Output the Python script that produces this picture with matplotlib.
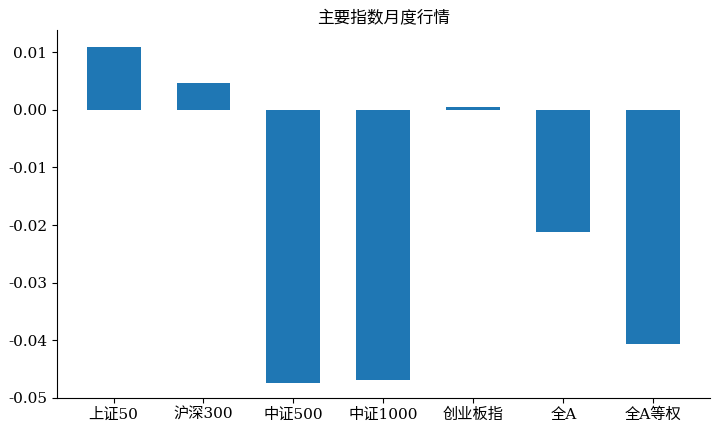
import matplotlib
matplotlib.use('Agg')
import matplotlib.pyplot as plt

plt.rcParams['font.family'] = ['DejaVu Serif', 'Noto Sans CJK SC']
plt.rcParams['axes.unicode_minus'] = False

# 指数名称和月度涨跌幅
names = ['上证50', '沪深300', '中证500', '中证1000', '创业板指', '全A', '全A等权']
returns = [0.0109, 0.0047, -0.0474, -0.0469, 0.0005, -0.0212, -0.0406]

fig = plt.figure(figsize=(7.2, 4.32), dpi=100)
ax = fig.add_axes([0.079, 0.079, 0.907, 0.851])
ax.bar(names, returns, width=0.6, color='#1f77b4')
ax.set_ylim(bottom=-0.05)
ax.set_title('主要指数月度行情', fontsize=12)
ax.spines['top'].set_visible(False)
ax.spines['right'].set_visible(False)
ax.tick_params(labelsize=11)

fig.savefig('out.png', dpi=100)
